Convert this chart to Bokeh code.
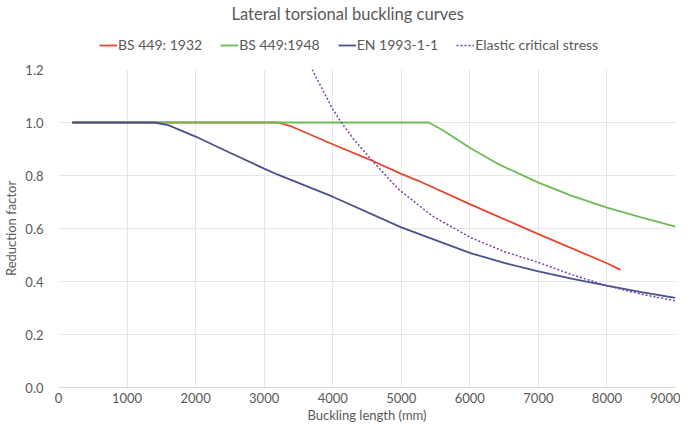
from bokeh.plotting import figure
from bokeh.layouts import column
from bokeh.models import Legend, LegendItem, FixedTicker, NumeralTickFormatter, Range1d
from bokeh.embed import file_html
from bokeh.resources import INLINE

title_text = "Lateral torsional buckling curves"
x_label = "Buckling length (mm)"
y_label = "Reduction factor"
series_names = ["BS 449: 1932", "BS 449:1948", "EN 1993-1-1", "Elastic critical stress"]

bs1932_x = [200, 3200, 3400, 4000, 4600, 5000, 5250, 6000, 7000, 8000, 8200]
bs1932_y = [1.0, 1.0, 0.985, 0.918, 0.853, 0.806, 0.78, 0.692, 0.579, 0.469, 0.444]

bs1948_x = [200, 5400, 5600, 6000, 6400, 7000, 7500, 8000, 8500, 9000]
bs1948_y = [1.0, 1.0, 0.972, 0.905, 0.845, 0.773, 0.722, 0.679, 0.642, 0.607]

en_x = [200, 1400, 1600, 2000, 2500, 3000, 3200, 4000, 5000, 6000, 6500, 7000, 7500, 8000, 8500, 9000]
en_y = [1.0, 1.0, 0.99, 0.947, 0.886, 0.826, 0.803, 0.72, 0.604, 0.508, 0.47, 0.438, 0.41, 0.384, 0.36, 0.338]

el_x = [3700, 3850, 4000, 4125, 4300, 4580, 4950, 5450, 6000, 6500, 7000, 7500, 8000, 8500, 9000]
el_y = [1.2, 1.125, 1.05, 1.0, 0.939, 0.855, 0.75, 0.648, 0.567, 0.513, 0.472, 0.425, 0.384, 0.352, 0.327]

x_ticks = [0, 1000, 2000, 3000, 4000, 5000, 6000, 7000, 8000, 9000]
y_ticks = [0.0, 0.2, 0.4, 0.6, 0.8, 1.0, 1.2]

FONT = "Lato"
TXT = "#595959"
styles = [
    dict(line_color="#e8452f", line_width=1.8),
    dict(line_color="#6dbb56", line_width=1.8),
    dict(line_color="#48528f", line_width=1.8),
    dict(line_color="#7b3fa6", line_width=1.5, line_dash="2 2"),
]
NAN = float("nan")

# ---- header figure: title + legend ----
top = figure(frame_width=617, frame_height=39, output_backend="svg", toolbar_location=None,
             x_range=Range1d(0, 1), y_range=Range1d(0, 1),
             min_border_left=53, min_border_right=5, min_border_top=0, min_border_bottom=0)
top.axis.visible = False
top.grid.visible = False
top.outline_line_color = None
top.title.text = title_text
top.title.align = "left"
top.title.offset = 173
top.title.text_font = FONT
top.title.text_font_size = "16.5px"
top.title.text_font_style = "normal"
top.title.text_color = TXT
top.title.standoff = 2

items = []
for name, st in zip(series_names, styles):
    r = top.line(x=[NAN], y=[NAN], **st)
    items.append(LegendItem(label=name, renderers=[r]))
legend = Legend(items=items, orientation="horizontal", location=(41, 10))
legend.label_text_font = FONT
legend.label_text_font_size = "14px"
legend.label_text_color = TXT
legend.glyph_width = 18
legend.glyph_height = 14
legend.label_height = 14
legend.label_standoff = 1
legend.spacing = 18
legend.padding = 2
legend.margin = 0
legend.border_line_color = None
legend.background_fill_alpha = 0
top.add_layout(legend, "center")

# ---- main chart ----
p = figure(frame_width=617, frame_height=318, output_backend="svg", toolbar_location=None,
           x_range=Range1d(0, 9000), y_range=Range1d(0, 1.2),
           min_border_left=53, min_border_right=5, min_border_top=6, min_border_bottom=38)
p.outline_line_color = None
p.background_fill_color = "white"

p.line(bs1932_x, bs1932_y, **styles[0])
p.line(bs1948_x, bs1948_y, **styles[1])
p.line(en_x, en_y, **styles[2])
p.line(el_x, el_y, **styles[3])

for ax in (p.xaxis[0], p.yaxis[0]):
    ax.major_tick_line_color = None
    ax.minor_tick_line_color = None
    ax.major_tick_out = 0
    ax.major_tick_in = 0
    ax.minor_tick_out = 0
    ax.minor_tick_in = 0
    ax.major_label_text_font = FONT
    ax.major_label_text_font_size = "13px"
    ax.major_label_text_color = TXT
    ax.axis_label_text_font = FONT
    ax.axis_label_text_font_size = "13px"
    ax.axis_label_text_color = TXT
    ax.axis_label_text_font_style = "normal"

p.xaxis.axis_label = x_label
p.yaxis.axis_label = y_label
p.xaxis.ticker = FixedTicker(ticks=x_ticks)
p.yaxis.ticker = FixedTicker(ticks=y_ticks)
p.yaxis.formatter = NumeralTickFormatter(format="0.0")
p.xaxis.axis_line_color = "#d9d9d9"
p.yaxis.axis_line_color = None
p.xaxis.major_label_standoff = 5
p.yaxis.major_label_standoff = 15
p.xaxis.axis_label_standoff = 1
p.yaxis.axis_label_standoff = 3

p.xgrid.grid_line_color = "#e6e6e6"
p.ygrid.grid_line_color = "#e6e6e6"

layout = column(top, p, spacing=0)
open("out.html", "w").write(file_html(layout, INLINE))
